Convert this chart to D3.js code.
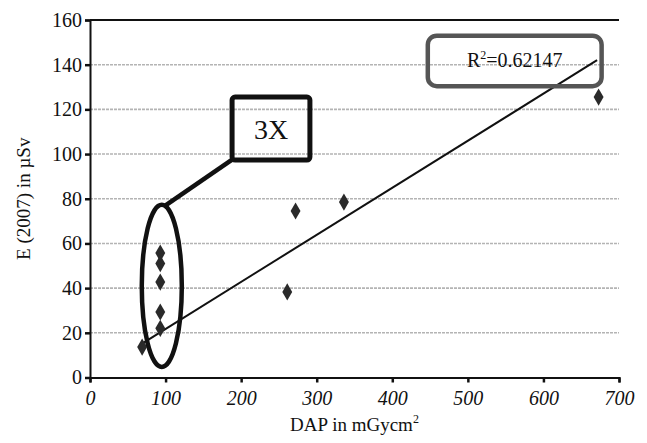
<!DOCTYPE html>
<html>
<head>
<meta charset="utf-8">
<script src="https://cdn.jsdelivr.net/npm/d3@7"></script>
<style>
  body { margin: 0; background: #fff; }
  text { font-family: "Liberation Serif", "Times New Roman", serif; fill: #111; }
</style>
</head>
<body>
<script>
// values
var dap = [69, 93, 93, 93, 93, 93, 261, 272, 336, 673];
var effDose = [13.6, 22, 29.3, 42.7, 51, 55.7, 38.3, 74.5, 78.5, 125.5];
var trendX = [70, 671];
var trendY = [15.4, 142];
var xTicks = [0, 100, 200, 300, 400, 500, 600, 700];
var yTicks = [0, 20, 40, 60, 80, 100, 120, 140, 160];
var rSquared = "0.62147";

var width = 647, height = 443;
var svg = d3.select('body').append('svg').attr('width', width).attr('height', height);

var x = d3.scaleLinear().domain([0, 700]).range([90, 619]);
var y = d3.scaleLinear().domain([0, 160]).range([377.5, 20]);

// grid lines
svg.append('g').selectAll('line')
    .data(yTicks.filter(function (d) { return d > 0 && d < 160; }))
    .enter().append('line')
    .attr('x1', x(0)).attr('x2', x(700))
    .attr('y1', function (d) { return y(d); })
    .attr('y2', function (d) { return y(d); })
    .attr('stroke', '#b4b4b4').attr('stroke-width', 1.6)
    .attr('stroke-dasharray', '3,1');

// top border
svg.append('line')
    .attr('x1', x(0)).attr('x2', x(700))
    .attr('y1', y(160)).attr('y2', y(160))
    .attr('stroke', '#111').attr('stroke-width', 1.8);

var xAxis = svg.append('g')
    .attr('transform', 'translate(0,' + y(0) + ')')
    .call(d3.axisBottom(x).tickValues(xTicks).tickSize(5).tickPadding(8));
xAxis.selectAll('text').style('font-size', '20px').style('font-style', 'italic');

var yAxis = svg.append('g')
    .attr('transform', 'translate(' + x(0) + ',0)')
    .call(d3.axisLeft(y).tickValues(yTicks).tickSize(5).tickPadding(3));
yAxis.selectAll('text').style('font-size', '20px');

svg.selectAll('.domain').attr('stroke', '#111').attr('stroke-width', 2);
svg.selectAll('.tick line').attr('stroke', '#111').attr('stroke-width', 2.5);

// trend line
svg.append('line')
    .attr('x1', x(trendX[0])).attr('y1', y(trendY[0]))
    .attr('x2', x(trendX[1])).attr('y2', y(trendY[1]))
    .attr('stroke', '#111').attr('stroke-width', 2);

// points
svg.append('g').selectAll('path')
    .data(dap)
    .enter().append('path')
    .attr('d', d3.symbol().type(d3.symbolDiamond).size(85))
    .attr('transform', function (d, i) {
        return 'translate(' + x(d) + ',' + y(effDose[i]) + ')';
    })
    .attr('fill', '#2a2a2a');

// annotations
var ell = { cx: 95, cy: 41, rx: 26.5, ry: 36.3 };
svg.append('ellipse')
    .attr('cx', x(ell.cx)).attr('cy', y(ell.cy))
    .attr('rx', x(ell.rx) - x(0)).attr('ry', y(0) - y(ell.ry))
    .attr('fill', 'none').attr('stroke', '#111').attr('stroke-width', 4.5);

svg.append('line')
    .attr('x1', x(190)).attr('y1', y(98))
    .attr('x2', x(100)).attr('y2', y(77))
    .attr('stroke', '#111').attr('stroke-width', 4.5);

svg.append('rect')
    .attr('x', x(188)).attr('y', y(125.5))
    .attr('width', x(291) - x(188)).attr('height', y(97.3) - y(125.5))
    .attr('rx', 3)
    .attr('fill', 'none').attr('stroke', '#111').attr('stroke-width', 5);

svg.append('text')
    .attr('x', (x(188) + x(291)) / 2).attr('y', y(111.4) + 10)
    .attr('text-anchor', 'middle')
    .style('font-size', '28px')
    .text('3X');

svg.append('rect')
    .attr('x', x(447)).attr('y', y(153))
    .attr('width', x(677) - x(447)).attr('height', y(130.4) - y(153))
    .attr('rx', 9)
    .attr('fill', 'none').attr('stroke', '#555').attr('stroke-width', 4.5);

var r2 = svg.append('text')
    .attr('x', (x(447) + x(677)) / 2).attr('y', y(141.7) + 6)
    .attr('text-anchor', 'middle')
    .style('font-size', '20px');
r2.append('tspan').text('R');
r2.append('tspan').attr('dy', -8).style('font-size', '12px').text('2');
r2.append('tspan').attr('dy', 8).text('=' + rSquared);

// axis titles
svg.append('text')
    .attr('x', (x(0) + x(700)) / 2).attr('y', 431)
    .attr('text-anchor', 'middle')
    .style('font-size', '19px')
    .text('DAP in mGycm')
    .append('tspan').attr('dy', -8).style('font-size', '12px').text('2');

svg.append('text')
    .attr('transform', 'translate(30,' + y(80) + ') rotate(-90)')
    .attr('text-anchor', 'middle')
    .style('font-size', '19px')
    .text('E (2007) in µSv');
</script>
</body>
</html>
